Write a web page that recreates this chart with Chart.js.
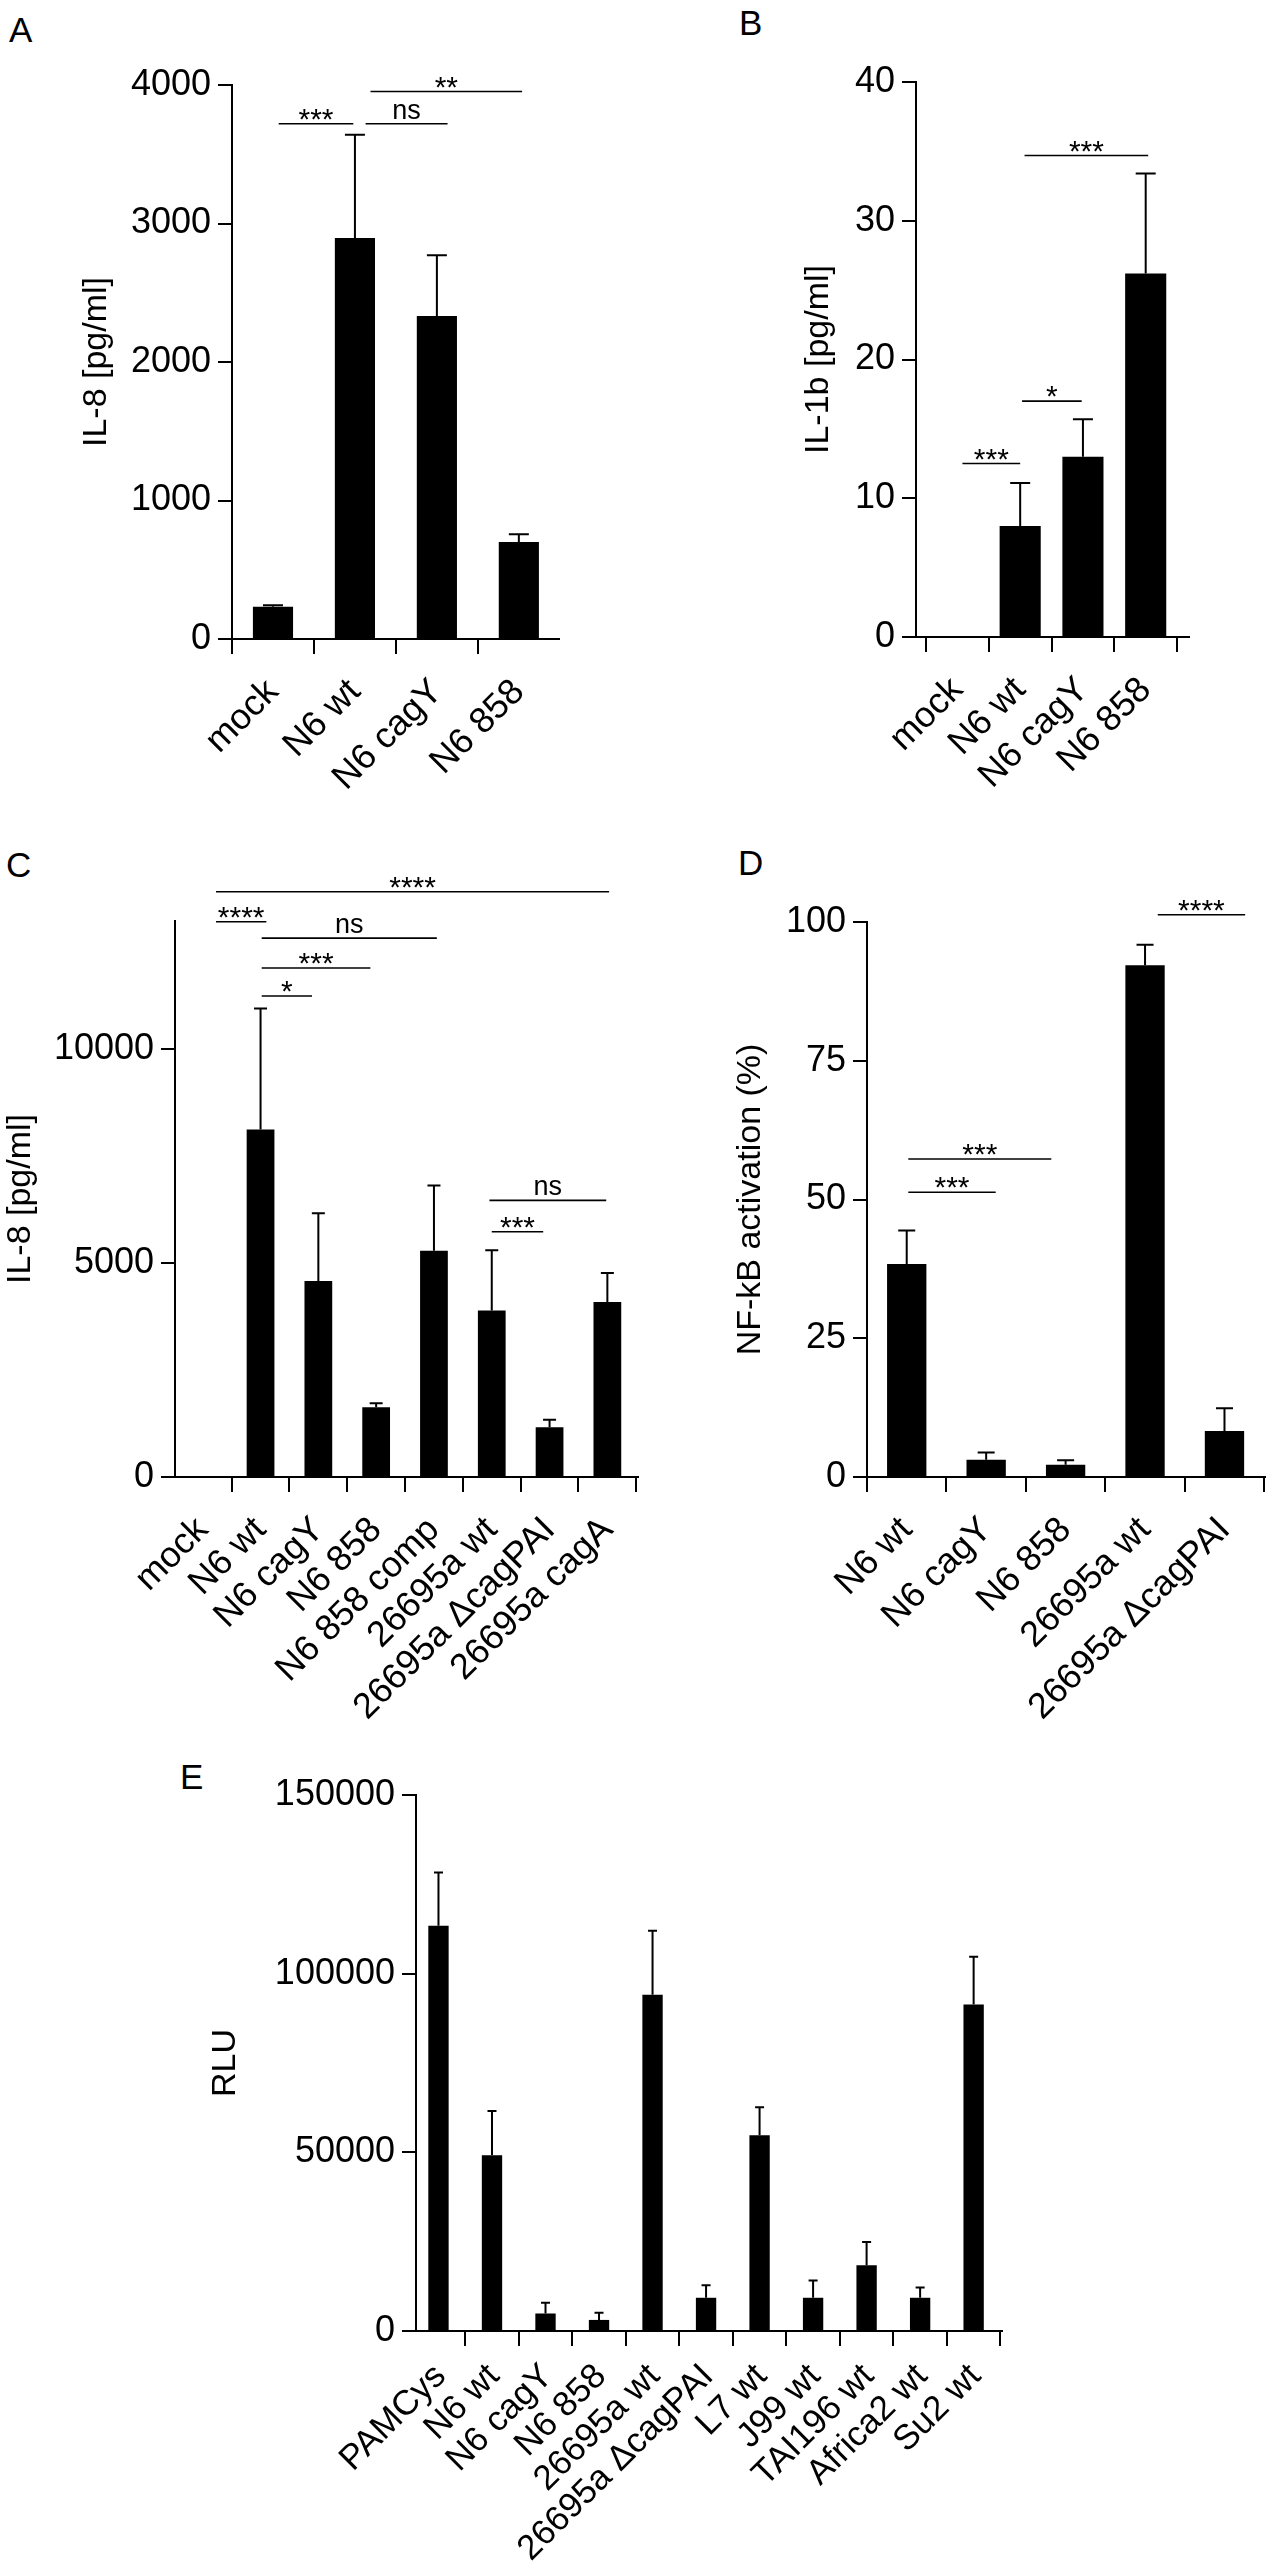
<!DOCTYPE html>
<html>
<head>
<meta charset="utf-8">
<script src="https://cdn.jsdelivr.net/npm/chart.js@4.4.1/dist/chart.umd.min.js"></script>
<style>
body { margin: 0; background: #fff; width: 1269px; height: 2562px; position: relative; overflow: hidden; font-family: "Liberation Sans", Arial, sans-serif; }
canvas { position: absolute; }
.letter { position: absolute; font-size: 35px; line-height: 1; color: #000; }
</style>
</head>
<body>
<div class="letter" style="left:9px;top:12px">A</div>
<div class="letter" style="left:739px;top:5px">B</div>
<div class="letter" style="left:6px;top:847px">C</div>
<div class="letter" style="left:738px;top:845px">D</div>
<div class="letter" style="left:180px;top:1759px">E</div>

<canvas id="chartA" width="640" height="800" style="left:0px;top:0px"></canvas>
<canvas id="chartB" width="629" height="800" style="left:640px;top:0px"></canvas>
<canvas id="chartC" width="640" height="960" style="left:0px;top:800px"></canvas>
<canvas id="chartD" width="629" height="960" style="left:640px;top:800px"></canvas>
<canvas id="chartE" width="1269" height="862" style="left:0px;top:1700px"></canvas>

<script>
var fontFam = "'Liberation Sans', Arial, sans-serif";

// panel A
var labelsA = ["mock", "N6 wt", "N6 cagY", "N6 858"];
var valuesA = [233, 2895, 2332, 700];
var errorsA = [11, 746, 438, 57];
var ticksA = [0, 1000, 2000, 3000, 4000];
// significance bars: [from, to, y, text], from/to in category units
var bracketsA = [[0.07, 0.98, 3720, "***"], [1.13, 2.13, 3720, "ns"], [1.19, 3.04, 3953, "**"]];

// panel B
var labelsB = ["mock", "N6 wt", "N6 cagY", "N6 858"];
var valuesB = [0, 8.0, 13.0, 26.2];
var errorsB = [0, 3.1, 2.7, 7.2];
var ticksB = [0, 10, 20, 30, 40];
var bracketsB = [[0.08, 1.0, 12.5, "***"], [1.03, 1.98, 17.0, "*"], [1.07, 3.04, 34.7, "***"]];

// panel C
var labelsC = ["mock", "N6 wt", "N6 cagY", "N6 858", "N6 858 comp", "26695a wt", "26695a \u0394cagPAI", "26695a cagA"];
var valuesC = [0, 8124, 4580, 1632, 5291, 3893, 1166, 4091];
var errorsC = [0, 2832, 1586, 93, 1527, 1410, 174, 676];
var ticksC = [0, 5000, 10000];
var bracketsC = [
  [0.23, 7.03, 13683, "****"], [0.23, 1.1, 12984, "****"], [1.02, 4.05, 12599, "ns"],
  [1.02, 2.9, 11900, "***"], [1.02, 1.89, 11247, "*"], [4.96, 6.98, 6469, "ns"], [5.0, 5.89, 5734, "***"]
];

// panel D
var labelsD = ["N6 wt", "N6 cagY", "N6 858", "26695a wt", "26695a \u0394cagPAI"];
var valuesD = [38.4, 3.1, 2.2, 92.2, 8.3];
var errorsD = [6.0, 1.3, 0.8, 3.7, 4.1];
var ticksD = [0, 25, 50, 75, 100];
var bracketsD = [[0.02, 1.82, 57.3, "***"], [0.02, 1.12, 51.3, "***"], [3.16, 4.26, 101.3, "****"]];

// panel E
var labelsE = ["PAMCys", "N6 wt", "N6 cagY", "N6 858", "26695a wt", "26695a \u0394cagPAI", "L7 wt", "J99 wt", "TAI196 wt", "Africa2 wt", "Su2 wt"];
var valuesE = [113400, 49200, 4900, 3100, 94100, 9300, 54800, 9300, 18400, 9300, 91400];
var errorsE = [14900, 12400, 3000, 2000, 17900, 3500, 7800, 4800, 6500, 2900, 13300];
var ticksE = [0, 50000, 100000, 150000];
var bracketsE = [];

var errorBarPlugin = {
  id: 'errorBars',
  afterDatasetsDraw: function(chart, args, opts) {
    var ctx = chart.ctx,
        meta = chart.getDatasetMeta(0),
        ds = chart.data.datasets[0],
        yScale = chart.scales.y;
    ctx.save();
    ctx.strokeStyle = '#000';
    ctx.lineWidth = opts.lineWidth;
    meta.data.forEach(function(bar, i) {
      var err = ds.errors[i];
      if (!err) return;
      var top = yScale.getPixelForValue(ds.data[i].y + err);
      ctx.beginPath();
      ctx.moveTo(bar.x, bar.y);
      ctx.lineTo(bar.x, top);
      ctx.moveTo(bar.x - opts.cap / 2, top);
      ctx.lineTo(bar.x + opts.cap / 2, top);
      ctx.stroke();
    });
    ctx.restore();
  }
};

var bracketPlugin = {
  id: 'brackets',
  afterDraw: function(chart, args, opts) {
    var ctx = chart.ctx,
        xs = chart.scales.x,
        ys = chart.scales.y;
    ctx.save();
    ctx.strokeStyle = '#000';
    ctx.fillStyle = '#000';
    ctx.lineWidth = 1.6;
    ctx.textAlign = 'center';
    ctx.textBaseline = 'alphabetic';
    opts.items.forEach(function(b) {
      var x1 = xs.getPixelForValue(b[0]),
          x2 = xs.getPixelForValue(b[1]),
          y = ys.getPixelForValue(b[2]);
      ctx.beginPath();
      ctx.moveTo(x1, y);
      ctx.lineTo(x2, y);
      ctx.stroke();
      if (b[3] == "ns") {
        ctx.font = "27px " + fontFam;
        ctx.fillText(b[3], (x1 + x2) / 2, y - 5);
      } else {
        ctx.font = "30px " + fontFam;
        ctx.fillText(b[3], (x1 + x2) / 2, y + 5);
      }
    });
    ctx.restore();
  }
};

function makePanel(id, p) {
  var points = p.values.map(function(v, i) { return { x: i, y: v }; });
  return new Chart(document.getElementById(id).getContext('2d'), {
    type: 'bar',
    data: {
      datasets: [{
        data: points,
        errors: p.errors,
        backgroundColor: '#000',
        borderWidth: 0,
        barPercentage: p.barPct,
        categoryPercentage: 1
      }]
    },
    options: {
      responsive: false,
      animation: false,
      layout: { padding: { left: 0, right: p.padRight, top: p.padTop, bottom: 0 } },
      plugins: {
        legend: { display: false },
        tooltip: { enabled: false },
        errorBars: { lineWidth: 2, cap: p.cap },
        brackets: { items: p.brackets }
      },
      scales: {
        x: {
          type: 'linear',
          min: p.xMin,
          max: p.xMax,
          offset: false,
          afterBuildTicks: function(s) {
            s.ticks = p.labels.map(function(l, i) { return { value: i }; });
          },
          afterFit: function(s) {
            s.height = p.xHeight;
            s.paddingLeft = 0;
            s.paddingRight = 0;
          },
          border: { display: true, color: '#000', width: 2 },
          grid: { display: true, drawOnChartArea: false, drawTicks: true, tickLength: 15, color: '#000', lineWidth: 2 },
          ticks: {
            color: '#000',
            font: { family: fontFam, size: p.xFont },
            autoSkip: false,
            minRotation: 45,
            maxRotation: 45,
            padding: p.xPad,
            labelOffset: p.xShift,
            callback: function(v) { return p.labels[v]; }
          }
        },
        y: {
          min: 0,
          max: p.yMax,
          afterBuildTicks: function(s) {
            s.ticks = p.ticks.map(function(v) { return { value: v }; });
          },
          afterFit: function(s) {
            s.width = p.yWidth;
            s.paddingTop = 0;
            s.paddingBottom = 0;
          },
          border: { display: true, color: '#000', width: 2 },
          grid: { display: true, drawOnChartArea: false, drawTicks: true, tickLength: 14, color: '#000', lineWidth: 2 },
          ticks: {
            color: '#000',
            font: { family: fontFam, size: 36 },
            padding: 7,
            callback: function(v) { return String(v); }
          },
          title: {
            display: true,
            text: p.title,
            color: '#000',
            font: { family: fontFam, size: 34 },
            padding: { top: p.titlePad, bottom: 0 }
          }
        }
      }
    },
    plugins: [errorBarPlugin, bracketPlugin]
  });
}

makePanel('chartA', {
  labels: labelsA, values: valuesA, errors: errorsA, ticks: ticksA, brackets: bracketsA,
  title: "IL-8 [pg/ml]", yMax: 4000, xMin: -0.5, xMax: 3.49, barPct: 0.49, cap: 20,
  yWidth: 232, padRight: 81, padTop: 85, xHeight: 161, titlePad: 76,
  xFont: 36, xPad: 17, xShift: 0
});

makePanel('chartB', {
  labels: labelsB, values: valuesB, errors: errorsB, ticks: ticksB, brackets: bracketsB,
  title: "IL-1b [pg/ml]", yMax: 40, xMin: -0.66, xMax: 3.69, barPct: 0.655, cap: 20,
  yWidth: 276, padRight: 80, padTop: 82, xHeight: 163, titlePad: 158,
  xFont: 36, xPad: 17, xShift: 0
});

makePanel('chartC', {
  labels: labelsC, values: valuesC, errors: errorsC, ticks: ticksC, brackets: bracketsC,
  title: "IL-8 [pg/ml]", yMax: 13000, xMin: -0.48, xMax: 7.53, barPct: 0.48, cap: 13,
  yWidth: 175, padRight: 2, padTop: 121, xHeight: 283, titlePad: 0,
  xFont: 36, xPad: 17, xShift: 0
});

makePanel('chartD', {
  labels: labelsD, values: valuesD, errors: errorsD, ticks: ticksD, brackets: bracketsD,
  title: "NF-kB activation (%)", yMax: 100, xMin: -0.5, xMax: 4.51, barPct: 0.495, cap: 17,
  yWidth: 227, padRight: 4, padTop: 122, xHeight: 283, titlePad: 90,
  xFont: 36, xPad: 17, xShift: 0
});

makePanel('chartE', {
  labels: labelsE, values: valuesE, errors: errorsE, ticks: ticksE, brackets: bracketsE,
  title: "RLU", yMax: 150000, xMin: -0.42, xMax: 10.53, barPct: 0.38, cap: 9,
  yWidth: 416, padRight: 267, padTop: 95, xHeight: 231, titlePad: 205,
  xFont: 35, xPad: 10, xShift: 2
});
</script>
</body>
</html>
